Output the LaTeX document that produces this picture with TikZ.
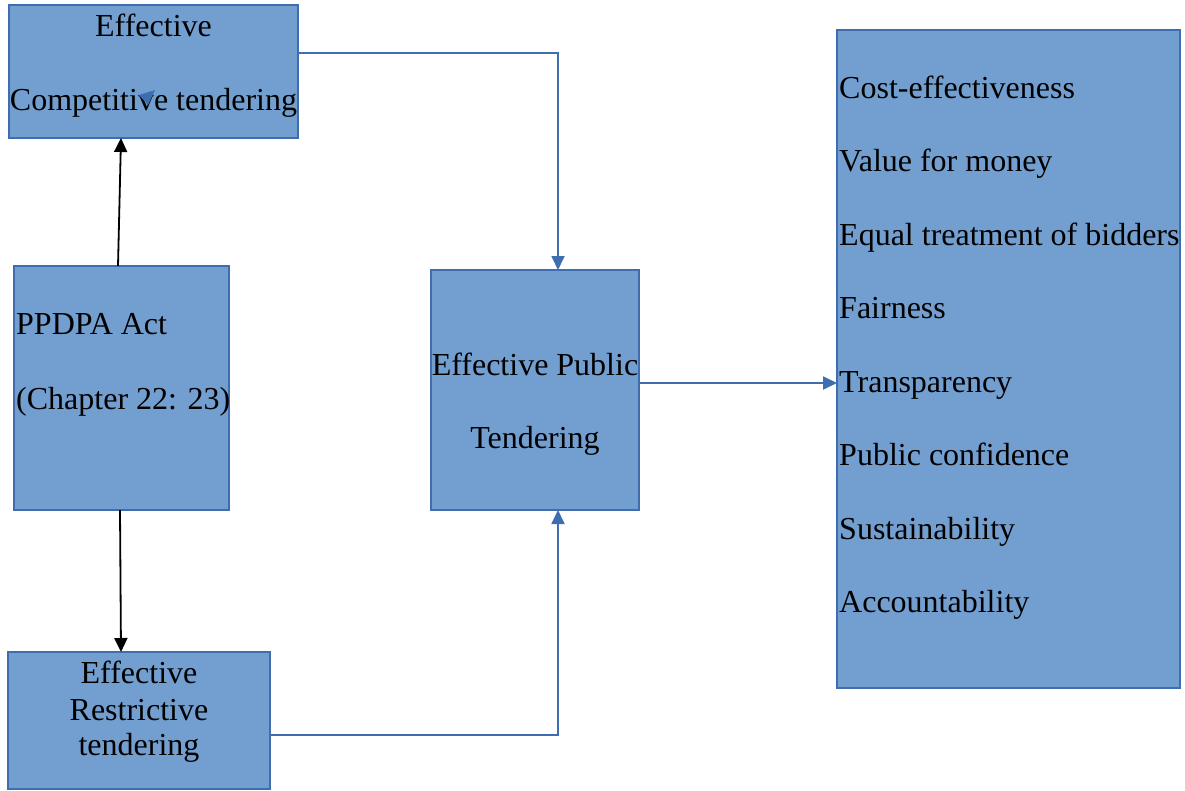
\documentclass[tikz,border=0pt]{standalone}
\usepackage{fontspec}
\setmainfont{Liberation Serif}
\usetikzlibrary{arrows.meta}
\definecolor{boxfill}{RGB}{114,159,207}
\definecolor{boxline}{RGB}{62,110,176}
\begin{document}
\begin{tikzpicture}[x=1pt,y=-1pt,
  box/.style={draw=boxline,fill=boxfill,line width=1.8pt,inner sep=0pt,outer sep=0pt},
  txt/.style={inner sep=0pt,font=\fontsize{32}{36}\selectfont,text=black},
  blueline/.style={draw=boxline,line width=1.8pt,-{Triangle[length=14pt,width=13pt]}},
  blackline/.style={draw=black,line width=1.8pt,-{Triangle[length=14pt,width=13pt]}}]
\useasboundingbox (0,0) rectangle (1185,790);

% boxes
\node[box,minimum width=289pt,minimum height=133pt] (comp) at (153.5,71.5) {};
\node[box,minimum width=215pt,minimum height=244pt] (act) at (121.5,388) {};
\node[box,minimum width=262pt,minimum height=137pt] (rest) at (139,720.5) {};
\node[box,minimum width=208pt,minimum height=240pt] (pub) at (535,390) {};
\node[box,minimum width=343pt,minimum height=658pt] (crit) at (1008.5,359) {};

% box texts
\node[txt,anchor=base] (compA) at (153.5,36) {Effective};
\node[txt,anchor=base] (compB) at (153.5,110) {Competitive tendering};
\node[txt,anchor=base west] (actA) at (16,334) {PPDPA Act};
\node[txt,anchor=base west] (actB) at (16,409) {(Chapter 22: 23)};
\node[txt,anchor=base] (pubA) at (535,375) {Effective Public};
\node[txt,anchor=base] (pubB) at (535,448) {Tendering};
\node[txt,anchor=base] (restA) at (139,683) {Effective};
\node[txt,anchor=base] (restB) at (139,720) {Restrictive};
\node[txt,anchor=base] (restC) at (139,755) {tendering};

% criteria list
\foreach \t [count=\i from 0] in {Cost-effectiveness,Value for money,Equal treatment of bidders,Fairness,Transparency,Public confidence,Sustainability,Accountability}
  \node[txt,anchor=base west] (crit\i) at (839,98+73.5*\i) {\t};

% stray arrow head inside the first box
\fill[boxline] (139,95) -- (155,90) -- (148,105) -- cycle;

% connectors
\draw[blackline] ([xshift=-3.5pt]act.north) -- ([xshift=-32.5pt]comp.south);
\draw[blackline] ([xshift=-1.5pt]act.south) -- ([xshift=-18pt]rest.north);
\draw[blueline] ([yshift=18.5pt]comp.east) -| ([xshift=23pt]pub.north);
\draw[blueline] ([yshift=-14.5pt]rest.east) -| ([xshift=23pt]pub.south);
\coordinate (pubout) at ([yshift=7pt]pub.east);
\draw[blueline] (pubout) -- (pubout -| crit.west);
\end{tikzpicture}
\end{document}
